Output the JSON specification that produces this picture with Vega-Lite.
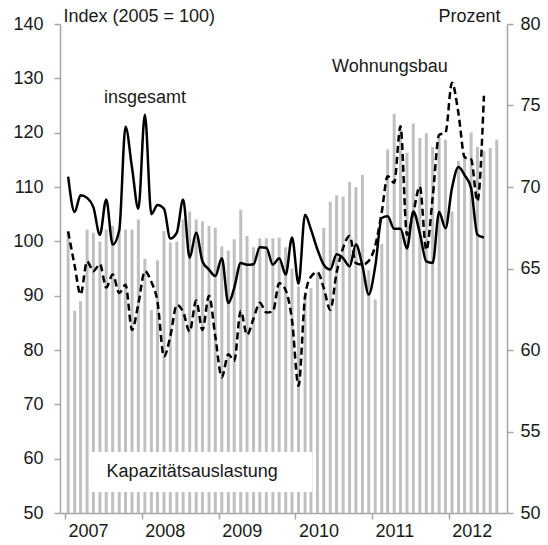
{
  "$schema": "https://vega.github.io/schema/vega-lite/v6.json",
  "width": 447,
  "height": 489,
  "autosize": {"type": "none"},
  "padding": {"left": 60, "top": 24, "right": 41, "bottom": 32},
  "background": "white",
  "config": {
    "view": {"stroke": null},
    "font": "Liberation Sans",
    "axis": {
      "domainColor": "#a6a6a6",
      "domainWidth": 1.5,
      "tickColor": "#a6a6a6",
      "tickWidth": 1.5,
      "tickSize": 6,
      "labelFont": "Liberation Sans",
      "labelFontSize": 18,
      "labelColor": "#1a1a1a",
      "titleFont": "Liberation Sans",
      "titleFontSize": 18,
      "titleFontWeight": "normal",
      "titleColor": "#1a1a1a",
      "grid": false
    },
    "text": {"font": "Liberation Sans", "fontSize": 18, "color": "#1a1a1a"}
  },
  "data": {
    "values": [
      {"d": "2007-01-16", "kap": 67.3, "ins": 111.9, "woh": 101.8},
      {"d": "2007-02-16", "kap": 62.4, "ins": 105.4, "woh": 95.5},
      {"d": "2007-03-16", "kap": 63.0, "ins": 108.5, "woh": 90.2},
      {"d": "2007-04-16", "kap": 67.4, "ins": 108.0, "woh": 96.3},
      {"d": "2007-05-16", "kap": 67.2, "ins": 106.3, "woh": 94.5},
      {"d": "2007-06-16", "kap": 66.65, "ins": 101.2, "woh": 95.8},
      {"d": "2007-07-16", "kap": 67.4, "ins": 107.7, "woh": 91.5},
      {"d": "2007-08-16", "kap": 67.6, "ins": 99.4, "woh": 93.9},
      {"d": "2007-09-16", "kap": 67.4, "ins": 102.0, "woh": 90.5},
      {"d": "2007-10-16", "kap": 67.4, "ins": 121.1, "woh": 92.0},
      {"d": "2007-11-16", "kap": 67.4, "ins": 113.5, "woh": 83.7},
      {"d": "2007-12-16", "kap": 68.0, "ins": 106.0, "woh": 88.5},
      {"d": "2008-01-16", "kap": 65.6, "ins": 123.3, "woh": 94.5},
      {"d": "2008-02-16", "kap": 62.45, "ins": 105.0, "woh": 92.5},
      {"d": "2008-03-16", "kap": 65.5, "ins": 106.7, "woh": 88.9},
      {"d": "2008-04-16", "kap": 67.3, "ins": 106.0, "woh": 78.8},
      {"d": "2008-05-16", "kap": 66.6, "ins": 100.5, "woh": 82.5},
      {"d": "2008-06-16", "kap": 66.65, "ins": 101.6, "woh": 88.3},
      {"d": "2008-07-16", "kap": 68.0, "ins": 107.7, "woh": 87.0},
      {"d": "2008-08-16", "kap": 68.5, "ins": 97.0, "woh": 83.4},
      {"d": "2008-09-16", "kap": 68.0, "ins": 101.6, "woh": 89.1},
      {"d": "2008-10-16", "kap": 67.9, "ins": 96.3, "woh": 83.7},
      {"d": "2008-11-16", "kap": 67.6, "ins": 94.8, "woh": 90.0},
      {"d": "2008-12-16", "kap": 67.5, "ins": 93.6, "woh": 82.5},
      {"d": "2009-01-16", "kap": 66.35, "ins": 96.9, "woh": 75.0},
      {"d": "2009-02-16", "kap": 66.1, "ins": 88.65, "woh": 79.2},
      {"d": "2009-03-16", "kap": 66.8, "ins": 91.4, "woh": 78.0},
      {"d": "2009-04-16", "kap": 68.6, "ins": 96.0, "woh": 87.2},
      {"d": "2009-05-16", "kap": 67.0, "ins": 95.7, "woh": 82.8},
      {"d": "2009-06-16", "kap": 66.3, "ins": 95.8, "woh": 85.8},
      {"d": "2009-07-16", "kap": 66.85, "ins": 98.9, "woh": 88.7},
      {"d": "2009-08-16", "kap": 66.85, "ins": 98.8, "woh": 86.9},
      {"d": "2009-09-16", "kap": 66.85, "ins": 95.7, "woh": 87.1},
      {"d": "2009-10-16", "kap": 66.9, "ins": 96.9, "woh": 92.3},
      {"d": "2009-11-16", "kap": 66.3, "ins": 93.9, "woh": 91.0},
      {"d": "2009-12-16", "kap": 65.0, "ins": 100.7, "woh": 85.5},
      {"d": "2010-01-16", "kap": 63.9, "ins": 92.2, "woh": 73.4},
      {"d": "2010-02-16", "kap": 63.4, "ins": 104.9, "woh": 89.8},
      {"d": "2010-03-16", "kap": 63.8, "ins": 102.2, "woh": 93.5},
      {"d": "2010-04-16", "kap": 64.8, "ins": 98.5, "woh": 94.3},
      {"d": "2010-05-16", "kap": 67.5, "ins": 95.7, "woh": 91.4},
      {"d": "2010-06-16", "kap": 69.1, "ins": 94.8, "woh": 87.4},
      {"d": "2010-07-16", "kap": 69.5, "ins": 97.6, "woh": 94.2},
      {"d": "2010-08-16", "kap": 69.4, "ins": 96.9, "woh": 98.8},
      {"d": "2010-09-16", "kap": 70.3, "ins": 95.4, "woh": 101.0},
      {"d": "2010-10-16", "kap": 70.0, "ins": 99.4, "woh": 96.0},
      {"d": "2010-11-16", "kap": 70.75, "ins": 95.5, "woh": 95.7},
      {"d": "2010-12-16", "kap": 64.9, "ins": 90.2, "woh": 96.4},
      {"d": "2011-01-16", "kap": 63.1, "ins": 95.4, "woh": 99.2},
      {"d": "2011-02-16", "kap": 66.5, "ins": 104.3, "woh": 105.4},
      {"d": "2011-03-16", "kap": 72.3, "ins": 104.6, "woh": 112.0},
      {"d": "2011-04-16", "kap": 74.5, "ins": 102.3, "woh": 110.8},
      {"d": "2011-05-16", "kap": 73.6, "ins": 102.3, "woh": 121.2},
      {"d": "2011-06-16", "kap": 72.1, "ins": 98.7, "woh": 101.2},
      {"d": "2011-07-16", "kap": 73.9, "ins": 105.5, "woh": 105.3},
      {"d": "2011-08-16", "kap": 73.0, "ins": 101.5, "woh": 110.1},
      {"d": "2011-09-16", "kap": 73.3, "ins": 96.3, "woh": 98.4},
      {"d": "2011-10-16", "kap": 72.45, "ins": 96.0, "woh": 108.0},
      {"d": "2011-11-16", "kap": 73.0, "ins": 105.4, "woh": 119.6},
      {"d": "2011-12-16", "kap": 72.9, "ins": 102.4, "woh": 120.0},
      {"d": "2012-01-16", "kap": 68.5, "ins": 109.8, "woh": 129.2},
      {"d": "2012-02-16", "kap": 71.6, "ins": 113.7, "woh": 123.5},
      {"d": "2012-03-16", "kap": 71.9, "ins": 112.2, "woh": 115.5},
      {"d": "2012-04-16", "kap": 73.35, "ins": 109.8, "woh": 115.1},
      {"d": "2012-05-16", "kap": 72.45, "ins": 101.2, "woh": 107.4},
      {"d": "2012-06-16", "kap": 72.2, "ins": 100.7, "woh": 126.8},
      {"d": "2012-07-16", "kap": 72.4, "ins": null, "woh": null},
      {"d": "2012-08-16", "kap": 72.9, "ins": null, "woh": null}
    ]
  },
  "layer": [
    {
      "layer": [
        {
          "mark": {"type": "bar", "color": "#c0c0c0", "size": 3},
          "encoding": {
            "x": {
              "field": "d",
              "type": "temporal",
              "scale": {
                "type": "utc",
                "domain": [
                  {"year": 2007, "month": 1, "date": 1, "utc": true},
                  {"year": 2012, "month": 9, "date": 10, "utc": true}
                ]
              },
              "axis": {
                "title": null,
                "values": [
                  {"year": 2007, "month": 1, "date": 1, "utc": true},
                  {"year": 2008, "month": 1, "date": 1, "utc": true},
                  {"year": 2009, "month": 1, "date": 1, "utc": true},
                  {"year": 2010, "month": 1, "date": 1, "utc": true},
                  {"year": 2011, "month": 1, "date": 1, "utc": true},
                  {"year": 2012, "month": 1, "date": 1, "utc": true}
                ],
                "format": "%Y",
                "formatType": "utc",
                "labelAlign": "left",
                "labelOffset": 3,
                "labelPadding": 3
              }
            },
            "y": {
              "field": "kap",
              "type": "quantitative",
              "scale": {"domain": [50, 80], "zero": false, "nice": false},
              "axis": {
                "orient": "right",
                "values": [50, 55, 60, 65, 70, 75, 80],
                "labelPadding": 7,
                "title": "Prozent",
                "titleAngle": 0,
                "titleAlign": "right",
                "titleBaseline": "middle",
                "titleX": -7,
                "titleY": -8
              }
            },
            "y2": {"datum": 50}
          }
        },
        {
          "data": {"values": [{}]},
          "mark": {"type": "rect", "color": "white"},
          "encoding": {
            "x": {"datum": {"year": 2007, "month": 4, "date": 26, "utc": true}, "type": "temporal"},
            "x2": {"datum": {"year": 2010, "month": 3, "date": 23, "utc": true}},
            "y": {"datum": 53.74},
            "y2": {"datum": 51.29}
          }
        },
        {
          "data": {"values": [{}]},
          "mark": {"type": "text", "align": "center", "baseline": "middle"},
          "encoding": {
            "x": {"datum": {"year": 2008, "month": 8, "date": 28, "utc": true}, "type": "temporal"},
            "y": {"datum": 52.5},
            "text": {"value": "Kapazitätsauslastung"}
          }
        }
      ]
    },
    {
      "layer": [
        {
          "mark": {"type": "line", "color": "black", "strokeWidth": 2.5, "interpolate": "monotone"},
          "encoding": {
            "x": {"field": "d", "type": "temporal"},
            "y": {
              "field": "ins",
              "type": "quantitative",
              "scale": {"domain": [50, 140], "zero": false, "nice": false},
              "axis": {
                "orient": "left",
                "values": [50, 60, 70, 80, 90, 100, 110, 120, 130, 140],
                "labelPadding": 11,
                "title": "Index (2005 = 100)",
                "titleAngle": 0,
                "titleAlign": "left",
                "titleBaseline": "middle",
                "titleX": 3,
                "titleY": -8
              }
            }
          }
        },
        {
          "mark": {"type": "line", "color": "black", "strokeWidth": 2.5, "strokeDash": [7, 4], "interpolate": "monotone"},
          "encoding": {
            "x": {"field": "d", "type": "temporal"},
            "y": {"field": "woh", "type": "quantitative"}
          }
        },
        {
          "data": {"values": [{}]},
          "mark": {"type": "text", "align": "center", "baseline": "middle"},
          "encoding": {
            "x": {"datum": {"year": 2008, "month": 1, "date": 17, "utc": true}, "type": "temporal"},
            "y": {"datum": 126.3},
            "text": {"value": "insgesamt"}
          }
        },
        {
          "data": {"values": [{}]},
          "mark": {"type": "text", "align": "center", "baseline": "middle"},
          "encoding": {
            "x": {"datum": {"year": 2011, "month": 3, "date": 27, "utc": true}, "type": "temporal"},
            "y": {"datum": 132},
            "text": {"value": "Wohnungsbau"}
          }
        }
      ]
    }
  ],
  "resolve": {"scale": {"y": "independent"}}
}
